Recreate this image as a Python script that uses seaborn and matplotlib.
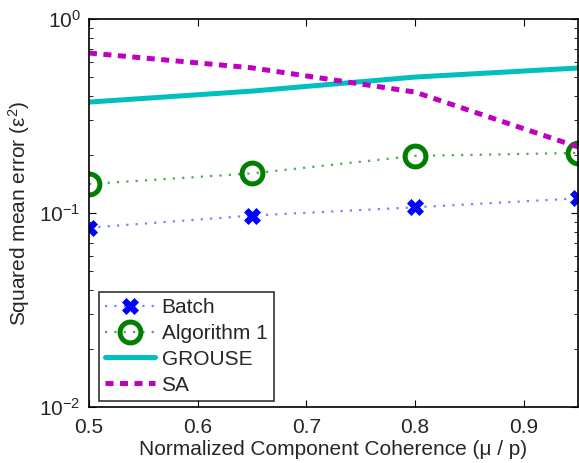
import pandas as pd
import matplotlib.pyplot as plt
import seaborn as sns

sns.set_style("ticks")
plt.rcParams['font.family'] = ['Liberation Sans', 'DejaVu Sans']
plt.rcParams['mathtext.fontset'] = 'custom'
plt.rcParams['mathtext.rm'] = 'Liberation Sans'
plt.rcParams['mathtext.it'] = 'Liberation Sans:italic'

coherence = [0.5, 0.65, 0.8, 0.95]
batch = [0.084, 0.097, 0.107, 0.119]
algorithm1 = [0.141, 0.160, 0.197, 0.204]
grouse = [0.373, 0.425, 0.502, 0.559]
sa = [0.668, 0.560, 0.420, 0.219]

fig = plt.figure(figsize=(5.79, 4.63), dpi=100)
ax = fig.add_axes([89 / 579, 1 - 407 / 463, 489 / 579, 388 / 463])

sns.lineplot(x=coherence, y=batch, ax=ax, color='#8080ff', linestyle=(0, (1, 3.2)),
             linewidth=1.6, marker='X', markersize=12, markerfacecolor='blue',
             markeredgecolor='blue', markeredgewidth=0.5, label='Batch')
sns.lineplot(x=coherence, y=algorithm1, ax=ax, color='#4daa4d', linestyle=(0, (1, 3.2)),
             linewidth=1.6, marker='o', markersize=15, markerfacecolor='none',
             markeredgecolor='#008000', markeredgewidth=3.6, label='Algorithm 1')
sns.lineplot(x=coherence, y=grouse, ax=ax, color='#00bfbf', linewidth=3.6, label='GROUSE')
sns.lineplot(x=coherence, y=sa, ax=ax, color='#bf00bf', linestyle=(0, (1.6, 1.3)),
             linewidth=3.6, label='SA')

ax.set_yscale('log')
ax.set_xlim(0.5, 0.95)
ax.set_ylim(1e-2, 1e0)
ax.set_xticks([0.5, 0.6, 0.7, 0.8, 0.9])
ax.set_xticklabels(['0.5', '0.6', '0.7', '0.8', '0.9'])
ax.tick_params(which='both', direction='in', top=True, right=True, labelsize=15, color='black')
ax.tick_params(axis='x', which='both', pad=8)
ax.tick_params(axis='y', which='both', pad=6)
ax.tick_params(which='major', length=5)
ax.tick_params(which='minor', length=3)
for s in ax.spines.values():
    s.set_linewidth(1.2)
    s.set_color('black')

ax.set_xlabel('Normalized Component Coherence (μ / p)', fontsize=15, labelpad=2)
ax.set_ylabel('Squared mean error (ε$^{2}$)', fontsize=15, labelpad=5)

leg = ax.legend(loc='lower left', bbox_to_anchor=(0.012, 0.005), fontsize=15, frameon=True,
                fancybox=False, edgecolor='black', handlelength=2.4, borderpad=0.3,
                labelspacing=0.33, handletextpad=0.3, borderaxespad=0.2)
leg.get_frame().set_linewidth(1.2)

plt.savefig('out.png', dpi=100)
